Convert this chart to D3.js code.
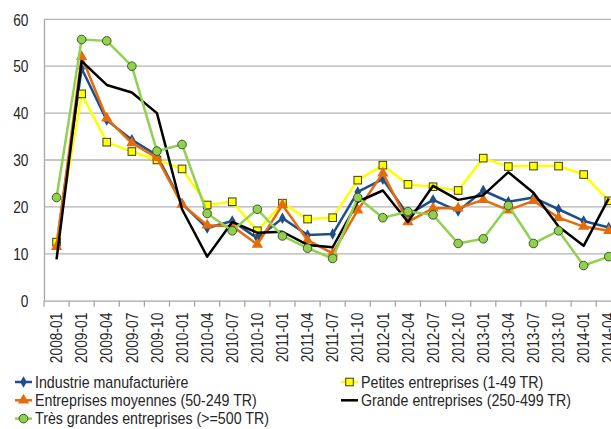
<!DOCTYPE html>
<html><head><meta charset="utf-8">
<script src="https://cdn.jsdelivr.net/npm/d3@7"></script>
<style>
html,body{margin:0;padding:0;background:#fff;}
svg{display:block;}
text{font-family:'Liberation Sans',Arial,sans-serif;fill:#262626;}
</style></head>
<body>
<svg id="chart" width="611" height="429"></svg>
<script>
const categories = ["2008-01","2009-01","2009-04","2009-07","2009-10","2010-01","2010-04","2010-07","2010-10","2011-01","2011-04","2011-07","2011-10","2012-01","2012-04","2012-07","2012-10","2013-01","2013-04","2013-07","2013-10","2014-01","2014-04"];
const industrie   = [12, 49.5, 38.5, 34.3, 31, 20.7, 15.5, 17.0, 13.3, 17.6, 14.0, 14.2, 23.2, 25.9, 18.3, 21.5, 19.1, 23.5, 21.1, 22.0, 19.5, 17.0, 15.6];
const petites     = [12.5, 44.1, 33.8, 31.8, 30.0, 28.1, 20.4, 21.1, 14.9, 20.8, 17.4, 17.7, 25.7, 28.9, 24.8, 24.3, 23.5, 30.4, 28.6, 28.7, 28.7, 26.9, 21.3];
const moyennes    = [11.5, 52.0, 38.9, 33.6, 30.5, 20.5, 16.1, 15.9, 12.0, 20.4, 12.9, 10.1, 19.3, 27.2, 16.8, 19.7, 19.7, 21.5, 19.3, 21.3, 17.7, 15.8, 14.9];
const grandes     = [8.8, 51.1, 46.0, 44.4, 40.0, 19.5, 9.4, 16.8, 14.5, 14.7, 11.9, 11.4, 21.1, 23.5, 16.8, 24.5, 21.5, 22.5, 27.4, 23.0, 15.8, 11.7, 21.8];
const tresGrandes = [22.0, 55.7, 55.4, 50.0, 31.9, 33.3, 18.6, 14.9, 19.5, 13.8, 11.2, 9.0, 22.0, 17.7, 19.0, 18.3, 12.2, 13.2, 20.3, 12.2, 14.9, 7.5, 9.4];
const yTicks = [0, 10, 20, 30, 40, 50, 60];
const seriesNames = ["Industrie manufacturière","Petites entreprises (1-49 TR)","Entreprises moyennes (50-249 TR)","Grande entreprises (250-499 TR)","Très grandes entreprises (>=500 TR)"];

const series = [
  {name: seriesNames[0], values: industrie,   line: "#1F4E8C", marker: "diamond",  fill: "#1F4E8C", stroke: "#1F4E8C"},
  {name: seriesNames[1], values: petites,     line: "#FFFF00", marker: "square",   fill: "#FFFF00", stroke: "#3d3d1a"},
  {name: seriesNames[2], values: moyennes,    line: "#E46C0A", marker: "triangle", fill: "#E46C0A", stroke: "#E46C0A"},
  {name: seriesNames[3], values: grandes,     line: "#000000", marker: null,       fill: null,      stroke: null},
  {name: seriesNames[4], values: tresGrandes, line: "#92D050", marker: "circle",   fill: "#92D050", stroke: "#3b5a1f"}
];

const svg = d3.select("#chart");
const plotLeft = 44, plotTop = 19.3, plotBottom = 300.7, band = 25.1;
const AXIS_NARROW = 0.86, LEG_NARROW = 0.89, FS = 16;
const x = d3.scaleBand().domain(categories).range([plotLeft, plotLeft + band * categories.length]).padding(0);
const y = d3.scaleLinear().domain([0, 60]).range([plotBottom, plotTop]);
const cx = c => x(c) + x.bandwidth() / 2;

// gridlines
svg.append("g").selectAll("line").data(yTicks.filter(t => t > 0)).join("line")
  .attr("x1", plotLeft).attr("x2", 611).attr("y1", d => y(d)).attr("y2", d => y(d))
  .attr("stroke", "#b3b3b3").attr("stroke-width", 1.3);

// y axis
const yAxis = svg.append("g").attr("transform", `translate(${plotLeft},0)`)
  .call(d3.axisLeft(y).tickValues(yTicks).tickSize(0).tickPadding(0));
yAxis.select(".domain").attr("stroke", "#a6a6a6").attr("stroke-width", 1.3);
yAxis.selectAll("text")
  .attr("x", null).attr("dy", null)
  .attr("transform", `translate(-15.5,0) scale(${AXIS_NARROW},1) translate(0,5.7)`)
  .attr("text-anchor", "end")
  .attr("font-size", FS).style("fill", "#262626").style("font-family", "'Liberation Sans',Arial,sans-serif");

// x axis
const xAxis = svg.append("g").attr("transform", `translate(0,${plotBottom})`)
  .call(d3.axisBottom(x).tickSize(0).tickFormat(d => d));
xAxis.select(".domain").attr("stroke", "#a6a6a6").attr("stroke-width", 1.3);
xAxis.selectAll(".tick line").remove();
xAxis.selectAll("text")
  .attr("x", 0).attr("y", 0).attr("dy", null)
  .attr("transform", `translate(5.7,12) rotate(-90) scale(${AXIS_NARROW},1)`)
  .attr("text-anchor", "end")
  .attr("font-size", FS).style("fill", "#262626").style("font-family", "'Liberation Sans',Arial,sans-serif");
// boundary tick marks
svg.append("g").selectAll("line").data(categories).join("line")
  .attr("x1", d => x(d)).attr("x2", d => x(d))
  .attr("y1", plotBottom).attr("y2", plotBottom + 6)
  .attr("stroke", "#a6a6a6").attr("stroke-width", 1.3);

function drawMarker(g, type, fill, stroke, px, py) {
  if (!type) return;
  if (type === "circle") {
    g.append("circle").attr("cx", px).attr("cy", py).attr("r", 4.3)
      .attr("fill", fill).attr("stroke", stroke).attr("stroke-width", 1);
  } else if (type === "square") {
    g.append("rect").attr("x", px - 3.8).attr("y", py - 3.8).attr("width", 7.6).attr("height", 7.6)
      .attr("fill", fill).attr("stroke", stroke).attr("stroke-width", 1);
  } else if (type === "diamond") {
    const sym = d3.symbol().type(d3.symbolDiamond).size(38);
    g.append("path").attr("d", sym()).attr("transform", `translate(${px},${py})`).attr("fill", fill);
  } else if (type === "triangle") {
    const sym = d3.symbol().type(d3.symbolTriangle).size(55);
    g.append("path").attr("d", sym()).attr("transform", `translate(${px},${py})`).attr("fill", fill);
  }
}

const line = d3.line().x(d => cx(d.c)).y(d => y(d.v));
series.forEach(s => {
  const pts = categories.map((c, i) => ({c, v: s.values[i]}));
  const g = svg.append("g");
  g.append("path").datum(pts).attr("d", line)
    .attr("fill", "none").attr("stroke", s.line).attr("stroke-width", 2.5)
    .attr("stroke-linejoin", "round");
  pts.forEach(p => drawMarker(g, s.marker, s.fill, s.stroke, cx(p.c), y(p.v)));
});

// legend
const legendPos = [
  {x: 15, y: 382}, {x: 341, y: 382},
  {x: 15, y: 400.3}, {x: 341, y: 400.3},
  {x: 15, y: 418.6}
];
series.forEach((s, i) => {
  const p = legendPos[i];
  const g = svg.append("g");
  g.append("line").attr("x1", p.x).attr("x2", p.x + 17).attr("y1", p.y).attr("y2", p.y)
    .attr("stroke", s.line).attr("stroke-width", 2.5);
  drawMarker(g, s.marker, s.fill, s.stroke, p.x + 8.5, p.y);
  g.append("text")
    .attr("transform", `translate(${p.x + 20},${p.y + 5.7}) scale(${LEG_NARROW},1)`)
    .attr("font-size", FS).text(s.name);
});
</script>
</body></html>
